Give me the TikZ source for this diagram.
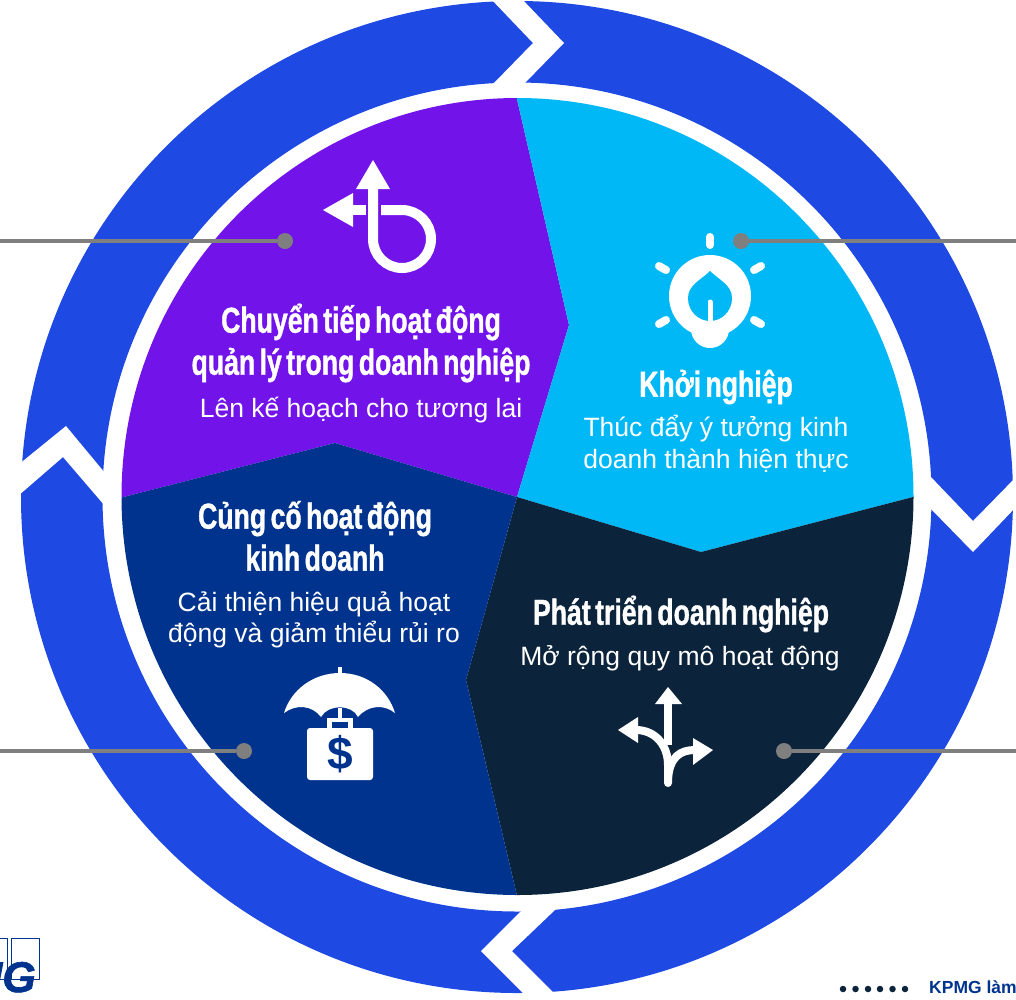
\documentclass[tikz,border=0pt]{standalone}
\usepackage{fontspec}
\usepackage{xcolor}
\setmainfont{Liberation Sans}
\newfontfamily\titlefont[FakeStretch=.74,FakeBold=1,WordSpace=.6]{Liberation Sans}
\newfontfamily\logofont[FakeBold=1.5]{Liberation Sans}
\definecolor{ringcolor}{RGB}{30, 73, 226}
\definecolor{purplecolor}{RGB}{114, 19, 234}
\definecolor{cyancolor}{RGB}{0, 184, 245}
\definecolor{navycolor}{RGB}{0, 51, 141}
\definecolor{darkcolor}{RGB}{12, 35, 60}
\definecolor{leadcolor}{RGB}{127, 127, 127}
\tikzset{
        titletext/.style={text=white, align=center, inner sep=0pt, font=\titlefont\bfseries\fontsize{36}{42}\selectfont},
        bodytext/.style={text=white, align=center, inner sep=0pt, font=\fontsize{26.5}{31.5}\selectfont},
        leaddot/.style={circle, fill=leadcolor, minimum size=16pt, inner sep=0pt},
        leadline/.style={draw=leadcolor, line width=4pt},
        iconline/.style={draw=white, line width=8pt},
        footdot/.style={circle, fill=darkcolor, minimum size=6.5pt, inner sep=0pt},
}

\begin{document}
\begin{tikzpicture}[x=1pt, y=-1pt]
        \useasboundingbox (0, 0) rectangle (1016, 999);

        % Outer ring
        \fill[ringcolor, even odd rule] (517, 497) circle[radius=496] (517, 497) circle[radius=414.5];
        \fill[white] (490, -2) -- (521, -2) -- (564, 43) -- (524, 84) -- (493, 84) -- (533, 43) -- cycle;
        \fill[white] (18, 465) -- (66, 426) -- (105, 473) -- (105, 506) -- (63, 457) -- (18, 496) -- cycle;
        \fill[white] (930, 476) -- (973, 521) -- (1016, 477) -- (1016, 507) -- (973, 552) -- (930, 508) -- cycle;
        \fill[white] (523, 909) -- (481, 951) -- (525, 995) -- (556, 995) -- (512, 951) -- (556, 909) -- cycle;

        % Four sectors
        \begin{scope}
                \clip (517.5, 496.5) circle[x radius=396, y radius=398.5];
                \fill[purplecolor] (508, 60) -- (569, 325) -- (517, 497) -- (335, 443) -- (100, 503) -- (100, 60) -- cycle;
                \fill[cyancolor] (508, 60) -- (569, 325) -- (517, 497) -- (701, 552) -- (940, 490) -- (940, 60) -- cycle;
                \fill[darkcolor] (940, 490) -- (701, 552) -- (517, 497) -- (466, 680) -- (518, 900) -- (940, 920) -- cycle;
                \fill[navycolor] (518, 900) -- (466, 680) -- (517, 497) -- (335, 443) -- (100, 503) -- (100, 920) -- cycle;
        \end{scope}

        % Leader lines
        \node[leaddot] (dotplan) at (285, 241) {};
        \node[leaddot] (dotstart) at (741, 241) {};
        \node[leaddot] (dotsafe) at (244, 751) {};
        \node[leaddot] (dotgrow) at (784, 751) {};
        \coordinate (endplan) at (0, 241);
        \coordinate (endstart) at (1016, 241);
        \coordinate (endsafe) at (0, 751);
        \coordinate (endgrow) at (1016, 751);
        \draw[leadline] (endplan) -- (dotplan);
        \draw[leadline] (endstart) -- (dotstart);
        \draw[leadline] (endsafe) -- (dotsafe);
        \draw[leadline] (endgrow) -- (dotgrow);

        % Texts
        \node[titletext] (titleplan) at (361, 343) {Chuyển tiếp hoạt động\\quản lý trong doanh nghiệp};
        \node[bodytext] (bodyplan) at (361, 410) {Lên kế hoạch cho tương lai};
        \node[titletext] (titlestart) at (716, 387) {Khởi nghiệp};
        \node[bodytext] (bodystart) at (716, 444) {Thúc đẩy ý tưởng kinh\\doanh thành hiện thực};
        \node[titletext] (titlesafe) at (315, 536) {Củng cố hoạt động\\kinh doanh};
        \node[bodytext] (bodysafe) at (314, 620) {Cải thiện hiệu quả hoạt\\động và giảm thiểu rủi ro};
        \node[titletext] (titlegrow) at (681, 614) {Phát triển doanh nghiệp};
        \node[bodytext] (bodygrow) at (680, 658) {Mở rộng quy mô hoạt động};

        % Return arrow icon
        \fill[white] (373, 160) -- (390, 189) -- (356, 189) -- cycle;
        \fill[white] (323, 210) -- (353, 193) -- (353, 227) -- cycle;
        \draw[draw=white, line width=10pt] (373, 187) -- (373, 239) arc[start angle=180, end angle=-90, radius=29] -- (381, 210);
        \draw[draw=white, line width=10pt] (352, 210) -- (366, 210);

        % Bulb icon
        \fill[white] (710, 296) circle[radius=41];
        \fill[white] (710, 329) circle[radius=19];
        \fill[cyancolor] (710, 271) .. controls (701, 280) and (688, 285) .. (688, 298) .. controls (688, 312) and (699, 321) .. (710, 321) .. controls (721, 321) and (732, 312) .. (732, 298) .. controls (732, 285) and (719, 280) .. (710, 271) -- cycle;
        \draw[draw=white, line width=5pt, line cap=round] (710, 302) -- (710, 322);
        \draw[iconline, line cap=round] (710, 237) -- (710, 245);
        \draw[iconline, line cap=round] (659, 266) -- (666, 270);
        \draw[iconline, line cap=round] (761, 266) -- (754, 270);
        \draw[iconline, line cap=round] (659, 324) -- (666, 320);
        \draw[iconline, line cap=round] (761, 324) -- (754, 320);

        % Umbrella and case icon
        \draw[draw=white, line width=3.5pt] (340, 667) -- (340, 680);
        \fill[white] (284, 713) .. controls (291, 690) and (313, 673) .. (340, 673) .. controls (367, 673) and (388, 690) .. (395, 713)
                .. controls (384, 704) and (368, 705) .. (358, 717) .. controls (352, 704) and (328, 704) .. (321, 717) .. controls (312, 705) and (296, 704) .. (284, 713) -- cycle;
        \draw[draw=white, line width=4pt] (340, 708) -- (340, 720);
        \draw[draw=white, line width=4.5pt] (329.5, 730) -- (329.5, 720) -- (350.5, 720) -- (350.5, 730);
        \fill[white, rounded corners=3pt] (307, 728) rectangle (373, 780);
        \node[text=navycolor, inner sep=0pt, font=\bfseries\fontsize{46}{46}\selectfont] (dollar) at (340, 754) {\$};

        % Fork arrows icon
        \fill[white] (668, 687) -- (682, 704) -- (655, 704) -- cycle;
        \fill[white] (618, 730) -- (638, 717) -- (638, 743) -- cycle;
        \fill[white] (713, 750) -- (693, 738) -- (693, 765) -- cycle;
        \draw[iconline] (668, 703) -- (668, 745);
        \draw[iconline, line cap=round] (636, 730) .. controls (655, 730) and (668, 745) .. (668, 765) -- (668, 783);
        \draw[iconline] (695, 750) .. controls (680, 750) and (670, 757) .. (668, 778);

        % Logo and footer
        \draw[navycolor, line width=1pt] (-5, 938) rectangle (7, 979);
        \draw[navycolor, line width=1pt] (11, 938) rectangle (39, 979);
        \node[anchor=base east, inner sep=0pt, text=navycolor, font=\logofont\bfseries\itshape\fontsize{43}{43}\selectfont] (logo) at (36, 992) {KPMG};
        \foreach \i/\x in {1/843, 2/855.5, 3/868, 4/880, 5/892.5, 6/905} {
                \node[footdot] (foot\i) at (\x, 989) {};
        }
        \node[anchor=base west, inner sep=0pt, text=navycolor, font=\bfseries\fontsize{17.5}{17.5}\selectfont] (footer) at (929, 993) {KPMG làm};
\end{tikzpicture}
\end{document}
